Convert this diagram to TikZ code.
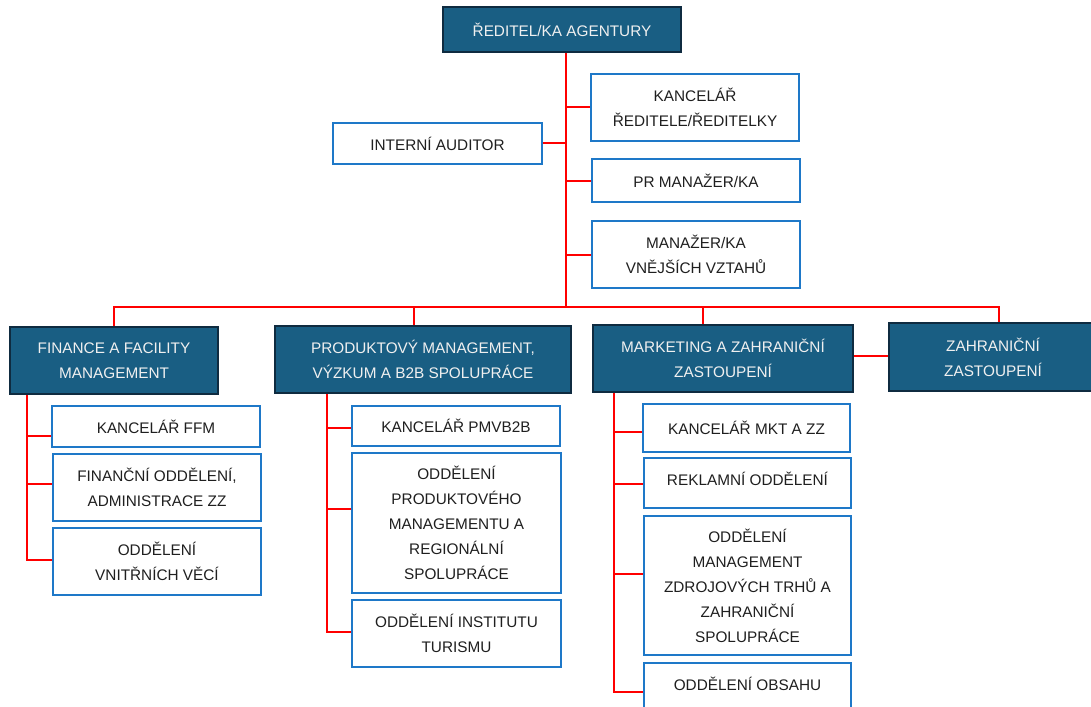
\documentclass[tikz,border=0pt]{standalone}
\usepackage{fontspec}
\setmainfont{Liberation Sans}
\usepackage{xcolor}
\usepackage{tikz}
\usetikzlibrary{backgrounds}
\definecolor{headfill}{HTML}{195E83}
\definecolor{headline}{HTML}{0F2B40}
\definecolor{unitline}{HTML}{1E78C8}
\definecolor{linkred}{HTML}{FF0000}

\begin{document}
\begin{tikzpicture}[x=0.75pt, y=-0.75pt,
		head/.style 2 args={
			rectangle,
			draw=headline,
			fill=headfill,
			text=white!94!black,
			line width=1.5pt,
			inner sep=0pt,
			align=center,
			font=\fontsize{11.5pt}{18.75pt}\selectfont,
			minimum width=#1,
			minimum height=#2},
		unit/.style 2 args={
			rectangle,
			draw=unitline,
			fill=white,
			text=black!88,
			line width=1.5pt,
			inner sep=0pt,
			align=center,
			font=\fontsize{11.5pt}{18.75pt}\selectfont,
			minimum width=#1,
			minimum height=#2},
		link/.style={draw=linkred, line width=1.5pt}
		]
		\useasboundingbox (0,0) rectangle (1091,706);
		\clip (0,0) rectangle (1091,706);
		\node[head={178.5pt}{33.75pt}] (dir) at (562, 29.5) {ŘEDITEL/KA AGENTURY};
		\node[unit={156pt}{50.25pt}] (kanc) at (695, 107.5) {KANCELÁŘ\\ŘEDITELE/ŘEDITELKY};
		\node[unit={156.75pt}{30.75pt}] (audit) at (437.5, 143.5) {INTERNÍ AUDITOR};
		\node[unit={156pt}{32.25pt}] (pr) at (696, 180.5) {PR MANAŽER/KA};
		\node[unit={156pt}{50.25pt}] (vztahy) at (696, 254.5) {MANAŽER/KA\\VNĚJŠÍCH VZTAHŮ};
		\node[head={156pt}{50.25pt}] (ffm) at (114, 360.5) {FINANCE A FACILITY\\MANAGEMENT};
		\node[head={222pt}{50.25pt}] (pm) at (423, 359.5) {PRODUKTOVÝ MANAGEMENT,\\VÝZKUM A B2B SPOLUPRÁCE};
		\node[head={195pt}{50.25pt}] (mkt) at (723, 358.5) {MARKETING A ZAHRANIČNÍ\\ZASTOUPENÍ};
		\node[head={156pt}{51pt}] (zz) at (993, 357) {ZAHRANIČNÍ\\ZASTOUPENÍ};
		% finance
		\node[unit={156pt}{30.75pt}] (ffm1) at (156, 426.5) {KANCELÁŘ FFM};
		\node[unit={156pt}{50.25pt}] (ffm2) at (157, 487.5) {FINANČNÍ ODDĚLENÍ,\\ADMINISTRACE ZZ};
		\node[unit={156pt}{50.25pt}] (ffm3) at (157, 561.5) {ODDĚLENÍ\\VNITŘNÍCH VĚCÍ};
		% produktovy management
		\node[unit={156pt}{30pt}] (pm1) at (456, 426) {KANCELÁŘ PMVB2B};
		\node[unit={156.75pt}{105pt}] (pm2) at (456.5, 523) {ODDĚLENÍ\\PRODUKTOVÉHO\\MANAGEMENTU A\\REGIONÁLNÍ\\SPOLUPRÁCE};
		\node[unit={156.75pt}{50.25pt}] (pm3) at (456.5, 633.5) {ODDĚLENÍ INSTITUTU\\TURISMU};
		% marketing
		\node[unit={155.25pt}{36pt}] (mkt1) at (746.5, 428) {KANCELÁŘ MKT A ZZ};
		\node[unit={155.25pt}{37.5pt}, text depth=6pt] (mkt2) at (747.5, 483) {REKLAMNÍ ODDĚLENÍ};
		\node[unit={155.25pt}{104.25pt}] (mkt3) at (747.5, 585.5) {ODDĚLENÍ\\MANAGEMENT\\ZDROJOVÝCH TRHŮ A\\ZAHRANIČNÍ\\SPOLUPRÁCE};
		\node[unit={155.25pt}{37.5pt}, text depth=6pt] (mkt4) at (747.5, 688) {ODDĚLENÍ OBSAHU};
		\begin{scope}[on background layer]
		\coordinate (bus) at (566, 307);
		\draw[link] (dir.south -| bus) -- (bus);
		\foreach \u in {kanc, pr, vztahy}
		\draw[link] (dir.south -| bus) |- (\u.west);
		\draw[link] (dir.south -| bus) |- (audit.east);
		\foreach \u/\x in {ffm/114, pm/414, mkt/703, zz/999}
		\draw[link] (bus) -| (\u.north -| \x,0);
		\foreach \u/\y in {ffm1/436, ffm2/484, ffm3/560}
		\draw[link] (ffm.south -| 27,0) |- (\u.west |- 0,\y);
		\foreach \u/\y in {pm1/428, pm2/509, pm3/632}
		\draw[link] (pm.south -| 327,0) |- (\u.west |- 0,\y);
		\foreach \u/\y in {mkt1/432, mkt2/484, mkt3/574, mkt4/692}
		\draw[link] (mkt.south -| 614,0) |- (\u.west |- 0,\y);
		\draw[link] (mkt.east |- 0,356) -- (zz.west |- 0,356);
		\end{scope}
		\end{tikzpicture}
\end{document}
